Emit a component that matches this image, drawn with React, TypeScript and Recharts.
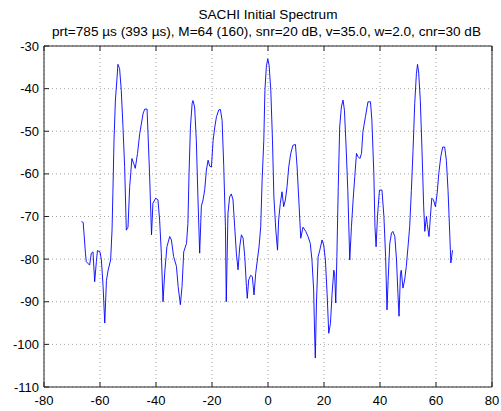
import { LineChart, Line, XAxis, YAxis, CartesianGrid } from "recharts"

// doppler velocity bins (x) and power in dB (y)
const freq = [
  -66.6, -66.0, -65.2, -64.9, -63.7, -63.1, -62.5, -61.9, -61.3, -60.9, -60.0, -59.5, -58.9, -58.3,
  -57.7, -57.1, -56.2, -55.7, -55.4, -55.0, -54.5, -53.9, -53.6, -53.0, -52.4, -51.8, -51.2, -50.6,
  -50.0, -49.4, -48.6, -48.0, -47.4, -46.6, -45.8, -44.6, -44.0, -43.2, -42.9, -42.3, -41.6, -41.1,
  -40.1, -39.3, -38.7, -38.1, -37.5, -36.9, -36.1, -35.1, -34.5, -33.7, -32.7, -32.1, -31.3, -30.7,
  -30.1, -29.1, -28.6, -28.2, -27.7, -27.1, -26.8, -26.2, -25.6, -25.0, -24.4, -23.8, -23.2, -22.6,
  -22.0, -21.4, -20.8, -20.2, -19.6, -19.0, -18.4, -17.6, -17.0, -16.4, -15.8, -15.2, -14.9, -14.3,
  -13.7, -13.1, -12.5, -11.9, -11.3, -10.7, -10.1, -9.5, -8.9, -8.3, -7.7, -7.4, -6.9, -6.2, -5.6,
  -5.0, -4.4, -3.8, -3.2, -2.6, -2.1, -1.5, -1.1, -0.6, -0.1, 0.4, 1.0, 1.6, 2.1, 2.8, 3.4, 3.8, 4.4,
  5.0, 5.6, 6.2, 6.8, 7.4, 8.1, 8.9, 9.8, 10.4, 11.0, 11.7, 12.5, 13.5, 14.3, 15.1, 15.7, 16.3, 16.7,
  16.9, 17.3, 17.9, 18.5, 19.3, 19.9, 20.5, 21.1, 21.7, 22.3, 22.9, 23.5, 23.8, 24.2, 24.6, 25.1,
  25.6, 26.2, 26.8, 27.3, 27.9, 28.5, 29.2, 29.8, 30.4, 31.0, 31.6, 32.2, 32.8, 33.4, 33.9, 34.8,
  35.7, 36.6, 37.1, 37.8, 38.2, 38.6, 39.1, 39.8, 40.7, 41.4, 42.0, 42.5, 42.9, 43.5, 44.1, 44.6,
  45.3, 45.9, 46.4, 46.8, 47.3, 47.6, 48.2, 48.8, 49.4, 50.0, 50.6, 51.2, 51.8, 52.4, 53.0, 53.4,
  53.8, 54.4, 55.0, 55.6, 56.0, 56.6, 56.9, 57.5, 58.0, 58.5, 59.1, 59.8, 60.4, 61.0, 61.7, 62.4,
  63.1, 63.7, 64.3, 64.9, 65.3, 65.9,
]

const power = [
  -71.2, -71.4, -78.6, -80.6, -81.4, -78.6, -78.3, -85.3, -80.6, -78.0, -78.3, -80.2, -86.4, -95.0,
  -85.0, -82.6, -80.2, -73.2, -64.6, -52.1, -42.7, -37.3, -34.3, -35.3, -40.4, -48.9, -58.3, -73.2,
  -72.5, -63.0, -56.4, -57.5, -58.7, -55.2, -50.5, -45.8, -44.8, -44.8, -49.7, -59.9, -74.3, -66.9,
  -65.7, -66.1, -70.8, -78.6, -90.0, -83.3, -77.1, -74.7, -75.5, -79.4, -81.7, -86.4, -90.7, -86.4,
  -78.3, -76.3, -71.6, -59.9, -49.0, -43.5, -42.8, -44.3, -52.1, -66.1, -78.6, -67.6, -66.1, -63.7,
  -59.1, -56.8, -58.2, -58.4, -52.1, -49.0, -46.6, -45.0, -44.9, -47.4, -58.3, -72.4, -90.0, -69.3,
  -65.4, -64.7, -66.1, -72.4, -78.6, -82.5, -77.1, -74.3, -75.1, -79.4, -86.4, -89.2, -84.9, -83.8, -84.1,
  -88.4, -83.4, -80.2, -77.1, -72.4, -61.5, -52.1, -40.4, -34.9, -33.0, -34.5, -40.4, -52.1, -65.4, -73.2, -77.9, -70.8, -66.9,
  -64.2, -67.7, -66.1, -63.0, -58.4, -55.3, -53.3, -53.1, -58.4, -66.1, -75.1, -72.5, -73.5, -74.7, -76.3, -80.2, -87.2, -98.9,
  -103.2, -90.3, -79.4, -77.9, -75.5, -76.7, -80.2, -88.0, -97.4, -95.1, -88.0, -82.6, -83.4, -90.3, -79.4, -63.0,
  -49.0, -44.3, -42.7, -45.1, -53.7, -63.9, -80.2, -72.4, -66.1, -60.6, -55.2, -56.0, -56.4, -55.2, -50.1, -46.6,
  -43.1, -43.1, -47.4, -59.9, -72.4, -77.1, -70.0, -63.8, -63.8, -70.0, -79.4, -91.9, -85.0, -76.3, -73.9, -73.5,
  -74.7, -80.2, -88.0, -93.4, -83.4, -82.6, -86.8, -84.9, -81.7, -77.1, -72.4, -63.9, -54.5, -43.5, -36.5, -34.3,
  -36.1, -42.8, -54.5, -67.7, -73.5, -70.0, -71.9, -74.7, -70.0, -65.7, -66.1, -67.7, -64.6, -59.9, -56.0, -53.7,
  -53.7, -56.8, -63.9, -73.9, -80.9, -77.9,
]

const xTicks = [-80, -60, -40, -20, 0, 20, 40, 60, 80]
const yTicks = [-110, -100, -90, -80, -70, -60, -50, -40, -30]

const TITLE = "SACHI Initial Spectrum"
const SUBTITLE = "prt=785 µs (393 µs), M=64 (160), snr=20 dB, v=35.0, w=2.0, cnr=30 dB"

const FONT = "'Liberation Sans', Arial, Helvetica, sans-serif"
const AXIS = "#222"

const data = freq.map((f, i) => ({ f, p: power[i] }))

export default function App() {
  const tickStyle = { fill: "#000", fontSize: 13, fontFamily: FONT }
  return (
    <div style={{ position: "absolute", left: 0, top: 0, width: 501, height: 411, background: "#fff" }}>
      <svg width={501} height={44} style={{ position: "absolute", left: 0, top: 0 }}>
        <text x={268} y={18.5} textAnchor="middle" fontSize={13.6} fontFamily={FONT} fill="#000">
          {TITLE}
        </text>
        <text x={266.5} y={35.5} textAnchor="middle" fontSize={13.6} fontFamily={FONT} fill="#000">
          {SUBTITLE}
        </text>
      </svg>
      <LineChart
        width={501}
        height={411}
        data={data}
        margin={{ top: 45, right: 8, bottom: 0, left: 0 }}
      >
        <CartesianGrid
          xAxisId="b"
          yAxisId="l"
          stroke="#a8a8a8"
          strokeDasharray="1 3"
        />
        <XAxis
          xAxisId="b"
          dataKey="f"
          type="number"
          domain={[-80, 80]}
          ticks={xTicks}
          interval={0}
          allowDataOverflow
          height={24}
          tickSize={-5}
          tickMargin={14}
          stroke={AXIS}
          tick={tickStyle}
        />
        <XAxis
          xAxisId="t"
          orientation="top"
          dataKey="f"
          type="number"
          domain={[-80, 80]}
          ticks={xTicks}
          interval={0}
          height={1}
          tickSize={-5}
          tickFormatter={() => ""}
          stroke={AXIS}
        />
        <YAxis
          yAxisId="l"
          type="number"
          domain={[-110, -30]}
          ticks={yTicks}
          interval={0}
          allowDataOverflow
          width={44}
          tickSize={-5}
          tickMargin={10}
          stroke={AXIS}
          tick={tickStyle}
        />
        <YAxis
          yAxisId="r"
          orientation="right"
          type="number"
          domain={[-110, -30]}
          ticks={yTicks}
          interval={0}
          width={1}
          tickSize={-5}
          tickFormatter={() => ""}
          stroke={AXIS}
        />
        <Line
          xAxisId="b"
          yAxisId="l"
          dataKey="p"
          type="linear"
          stroke="#0000ff"
          strokeWidth={0.9}
          dot={false}
          isAnimationActive={false}
        />
      </LineChart>
    </div>
  )
}
